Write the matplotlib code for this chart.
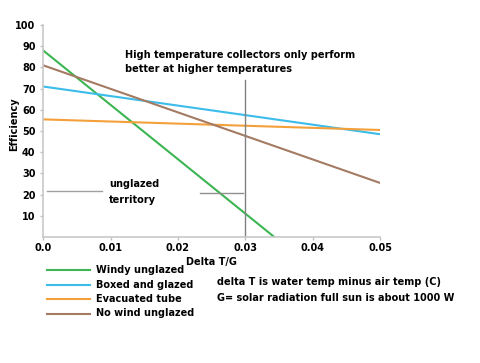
import matplotlib.pyplot as plt

plt.rcParams['font.family'] = 'DejaVu Sans'
plt.rcParams['font.weight'] = 'bold'

# end points of each collector line (delta T/G, efficiency %)
dtg = [0.0, 0.05]
windy_x = [0.0, 0.0343]
windy = [88, 0]
boxed = [71, 48.5]
evacuated = [55.5, 50.5]
no_wind = [81, 25.5]

labels = ["Windy unglazed", "Boxed and glazed", "Evacuated tube", "No wind unglazed"]
colors = ["#3cb552", "#3cbcea", "#f4a03a", "#a57a62"]

xticks = [0.0, 0.01, 0.02, 0.03, 0.04, 0.05]
xticklabels = ["0.0", "0.01", "0.02", "0.03", "0.04", "0.05"]
yticks = [10, 20, 30, 40, 50, 60, 70, 80, 90, 100]

fig = plt.figure(figsize=(4.8, 3.63), dpi=100)
ax = fig.add_axes([0.09, 0.347, 0.702, 0.584])

ax.plot(windy_x, windy, color=colors[0], lw=1.5)
ax.plot(dtg, boxed, color=colors[1], lw=1.5)
ax.plot(dtg, evacuated, color=colors[2], lw=1.5)
ax.plot(dtg, no_wind, color=colors[3], lw=1.5)

# annotation lines
ax.plot([0.03, 0.03], [0, 74], color="#808080", lw=1)
ax.plot([0.0005, 0.0087], [21.7, 21.7], color="#a0a0a0", lw=1)
ax.plot([0.0232, 0.0297], [21, 21], color="#909090", lw=1)

ax.text(0.0098, 25, "unglazed", fontsize=7, va="center")
ax.text(0.0098, 17.5, "territory", fontsize=7, va="center")
ax.text(0.0122, 82.8, "High temperature collectors only perform\nbetter at higher temperatures",
        fontsize=7, va="center", linespacing=1.5)

ax.set_xlim(0, 0.05)
ax.set_ylim(0, 100)
ax.set_xticks(xticks)
ax.set_xticklabels(xticklabels)
ax.set_yticks(yticks)
ax.tick_params(labelsize=7, colors="#c0c0c0", labelcolor="black", length=2, width=1)
ax.tick_params(axis="x", pad=2)
for s in ["top", "right"]:
    ax.spines[s].set_visible(False)
for s in ["left", "bottom"]:
    ax.spines[s].set_color("#c8c8c8")
    ax.spines[s].set_linewidth(1.2)

ax.set_xlabel("Delta T/G", fontsize=7, fontweight="bold", labelpad=3)
ax.set_ylabel("Efficiency", fontsize=7, fontweight="bold")
ax.yaxis.set_label_coords(-0.07, 0.53)

# hand-made legend below the chart
for i, (lab, c) in enumerate(zip(labels, colors)):
    y = 1 - (270 + i * 14.5) / 363
    fig.add_artist(plt.Line2D([0.098, 0.188], [y, y], color=c, lw=1.5))
    fig.text(0.2, y, lab, fontsize=7, va="center")

fig.text(0.452, 1 - 282 / 363, "delta T is water temp minus air temp (C)", fontsize=7, va="center")
fig.text(0.452, 1 - 298 / 363, "G= solar radiation full sun is about 1000 W", fontsize=7, va="center")

fig.savefig("out.png", dpi=100)
